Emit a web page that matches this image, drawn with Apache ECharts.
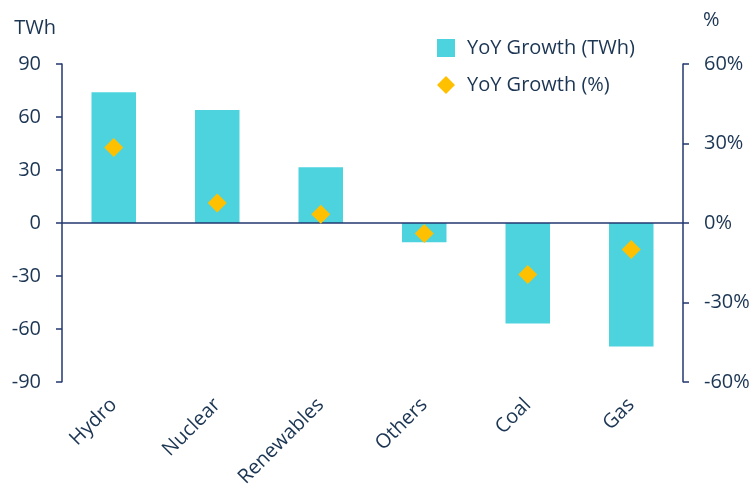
<!DOCTYPE html>
<html>
<head>
<meta charset="utf-8">
<script src="https://cdn.jsdelivr.net/npm/echarts@6/dist/echarts.min.js"></script>
<style>
    html, body { margin: 0; padding: 0; background: #fff; }
    #main { width: 753px; height: 490px; }
</style>
</head>
<body>
<div id="main"></div>
<script>
var categories = ['Hydro', 'Nuclear', 'Renewables', 'Others', 'Coal', 'Gas'];
var growthTwh = [74, 64, 31.5, -11, -57, -70];
var growthPct = [28.5, 7.5, 3.3, -4, -19.5, -10];
var leftTicks = [-90, 90, 30];   // min, max, interval
var rightTicks = [-60, 60, 30];

var textColor = '#1b3553';
var axisColor = '#22376f';
var fontFam = '"Open Sans", "Noto Sans", sans-serif';
var fs = 20;

var myChart = echarts.init(document.getElementById('main'));

var option = {
    animation: false,
    textStyle: { fontFamily: fontFam, color: textColor },
    legend: {
        orient: 'vertical',
        left: 432,
        top: 33,
        itemWidth: 18,
        itemHeight: 18,
        itemGap: 17,
        textStyle: { color: textColor, fontSize: fs, fontFamily: fontFam, padding: [0, 0, 0, 7] },
        data: [
            { name: 'YoY Growth (TWh)', icon: 'rect' },
            { name: 'YoY Growth (%)', icon: 'diamond', itemStyle: { opacity: 1 } }
        ]
    },
    grid: {
        left: 62,
        right: 70,
        top: 64,
        bottom: 108,
        containLabel: false
    },
    xAxis: [
        {
            type: 'category',
            data: categories,
            axisLine: { show: false },
            axisTick: { show: false },
            axisLabel: {
                rotate: 45,
                interval: 0,
                margin: 20,
                color: textColor,
                fontSize: fs,
                fontFamily: fontFam
            }
        }
    ],
    yAxis: [
        {
            type: 'value',
            name: 'TWh',
            nameGap: 26,
            nameTextStyle: { color: textColor, fontSize: fs, align: 'right', padding: [0, 6, 0, 0] },
            min: leftTicks[0],
            max: leftTicks[1],
            interval: leftTicks[2],
            axisLine: { show: true, lineStyle: { color: axisColor, width: 1.5 } },
            axisTick: { show: true, length: 6, lineStyle: { color: axisColor, width: 1.5 } },
            splitLine: { show: false },
            axisLabel: { color: textColor, fontSize: fs, margin: 21, fontFamily: fontFam }
        },
        {
            type: 'value',
            name: '%',
            nameGap: 34,
            nameTextStyle: { color: textColor, fontSize: fs, align: 'left', padding: [0, 0, 0, 20] },
            position: 'right',
            min: rightTicks[0],
            max: rightTicks[1],
            interval: rightTicks[2],
            axisLine: { show: true, lineStyle: { color: axisColor, width: 1.5 } },
            axisTick: { show: true, length: 6, lineStyle: { color: axisColor, width: 1.5 } },
            splitLine: { show: false },
            axisLabel: { color: textColor, fontSize: fs, margin: 21, fontFamily: fontFam, formatter: '{value}%' }
        }
    ],
    series: [
        {
            name: 'YoY Growth (TWh)',
            type: 'bar',
            yAxisIndex: 0,
            barWidth: '43%',
            data: growthTwh,
            itemStyle: { color: '#4dd3de' },
            markLine: {
                silent: true,
                symbol: 'none',
                label: { show: false },
                lineStyle: { color: axisColor, type: 'solid', width: 1.5 },
                data: [{ yAxis: 0 }]
            }
        },
        {
            name: 'YoY Growth (%)',
            type: 'scatter',
            yAxisIndex: 1,
            symbol: 'diamond',
            symbolSize: [19, 19],
            data: growthPct,
            itemStyle: { color: '#ffc000', opacity: 1 },
            z: 5
        }
    ]
};

myChart.setOption(option);
</script>
</body>
</html>
